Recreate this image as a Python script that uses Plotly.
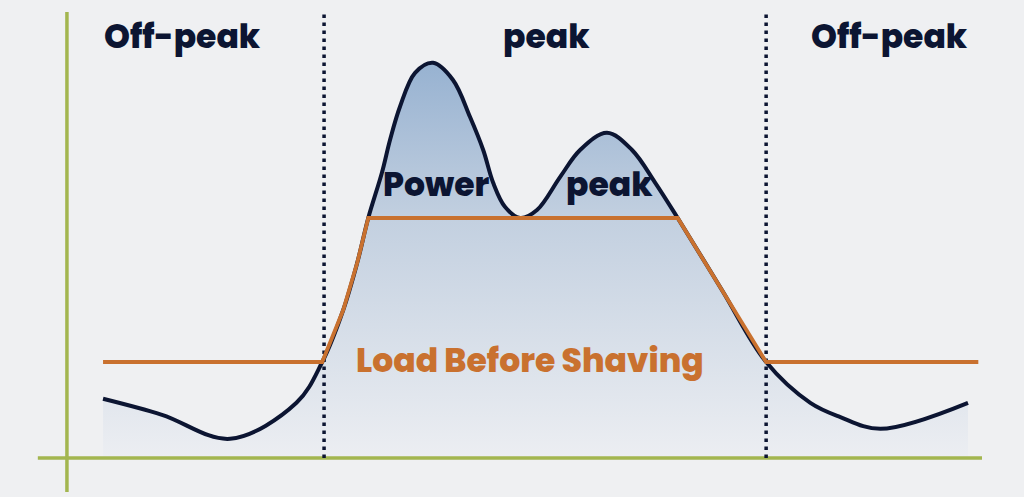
import plotly.graph_objects as go

# Time of day (hours) and load (kW)
load_hours = [1.0, 2.6, 4.45, 6.25, 6.95, 7.52, 7.9, 8.2, 8.57, 8.79, 9.06, 9.47, 9.96, 10.5, 10.96, 11.32, 11.59,
              11.91, 12.32, 12.78, 13.41, 13.95, 14.68, 15.36, 15.99, 16.6, 17.8, 19.0, 20.2, 21.0, 22.1, 24.48]
load_kw    = [14.8, 10.8, 4.8, 13.8, 24.0, 37.0, 48.8, 60.0, 71.3, 79.5, 87.8, 96.3, 98.8, 94.5, 85.3, 77.0, 68.8,
              62.8, 60.0, 62.0, 70.3, 77.0, 81.3, 77.0, 68.8, 60.0, 42.0, 24.0, 13.8, 10.3, 7.3, 13.8]

# Load after shaving (orange)
shaved_hours = [1.0, 6.95, 7.52, 7.9, 8.2, 16.6, 19.0, 24.76]
shaved_kw    = [24.0, 24.0, 37.0, 48.8, 60.0, 60.0, 24.0, 24.0]

# Period boundaries (hours)
period_bounds = [7.0, 19.0]

# Labels
period_labels = ["Off-peak", "peak", "Off-peak"]
period_label_hours = [3.15, 13.05, 22.35]
inner_labels = ["Power", "peak"]
inner_label_hours = [10.05, 14.75]
series_label = "Load Before Shaving"

NAVY = "#0c1532"
ORANGE = "#c9712f"
GREEN = "#a3b64f"
BG = "#eff0f2"
FONT = "Poppins, Inter, 'Open Sans', sans-serif"

fig = go.Figure()

# gradient fill under load curve
fig.add_trace(go.Scatter(
    x=load_hours, y=load_kw, mode="lines", line=dict(shape="spline", width=0, color="rgba(0,0,0,0)"),
    fill="tozeroy",
    fillgradient=dict(type="vertical", colorscale=[[0, "#eceef2"], [0.6, "#c3d0e0"], [1, "#97b2d1"]]),
    hoverinfo="skip", showlegend=False))

# axes (green)
fig.add_trace(go.Scatter(x=[0.02, 0.02], y=[111.5, -8.5], mode="lines",
                         line=dict(color=GREEN, width=3.5), hoverinfo="skip", showlegend=False))
fig.add_trace(go.Scatter(x=[-0.77, 24.86], y=[0, 0], mode="lines",
                         line=dict(color=GREEN, width=3.5), hoverinfo="skip", showlegend=False))

# period boundaries (dotted)
for b in period_bounds:
    fig.add_trace(go.Scatter(x=[b, b], y=[0, 112], mode="lines",
                             line=dict(color=NAVY, width=3.5, dash="3.5px,4.5px"),
                             hoverinfo="skip", showlegend=False))

# load curve
fig.add_trace(go.Scatter(x=load_hours, y=load_kw, mode="lines",
                         line=dict(shape="spline", smoothing=1.0, color=NAVY, width=4),
                         showlegend=False))

# shaved load (orange)
fig.add_trace(go.Scatter(x=shaved_hours, y=shaved_kw, mode="lines",
                         line=dict(color=ORANGE, width=3.8), showlegend=False))

for txt, h in zip(period_labels, period_label_hours):
    fig.add_annotation(x=h, y=105.5, text=txt, showarrow=False,
                       font=dict(family=FONT, size=33, color=NAVY, weight=800))
for txt, h in zip(inner_labels, inner_label_hours):
    fig.add_annotation(x=h, y=68.5, text=txt, showarrow=False,
                       font=dict(family=FONT, size=33, color=NAVY, weight=800))
fig.add_annotation(x=12.6, y=24.5, text=series_label, showarrow=False,
                   font=dict(family=FONT, size=33, color=ORANGE, weight=800))

fig.update_layout(
    width=1024, height=497,
    margin=dict(l=0, r=0, t=0, b=0),
    paper_bgcolor=BG, plot_bgcolor=BG,
    xaxis=dict(range=[-1.797, 26.0], visible=False, fixedrange=True),
    yaxis=dict(range=[-9.75, 114.5], visible=False, fixedrange=True),
    showlegend=False,
)

fig.write_html("out.html", config={"displayModeBar": False},
               post_script="document.body.style.margin='0';document.body.style.overflow='hidden';"
                           "document.body.style.background='" + BG + "';")
